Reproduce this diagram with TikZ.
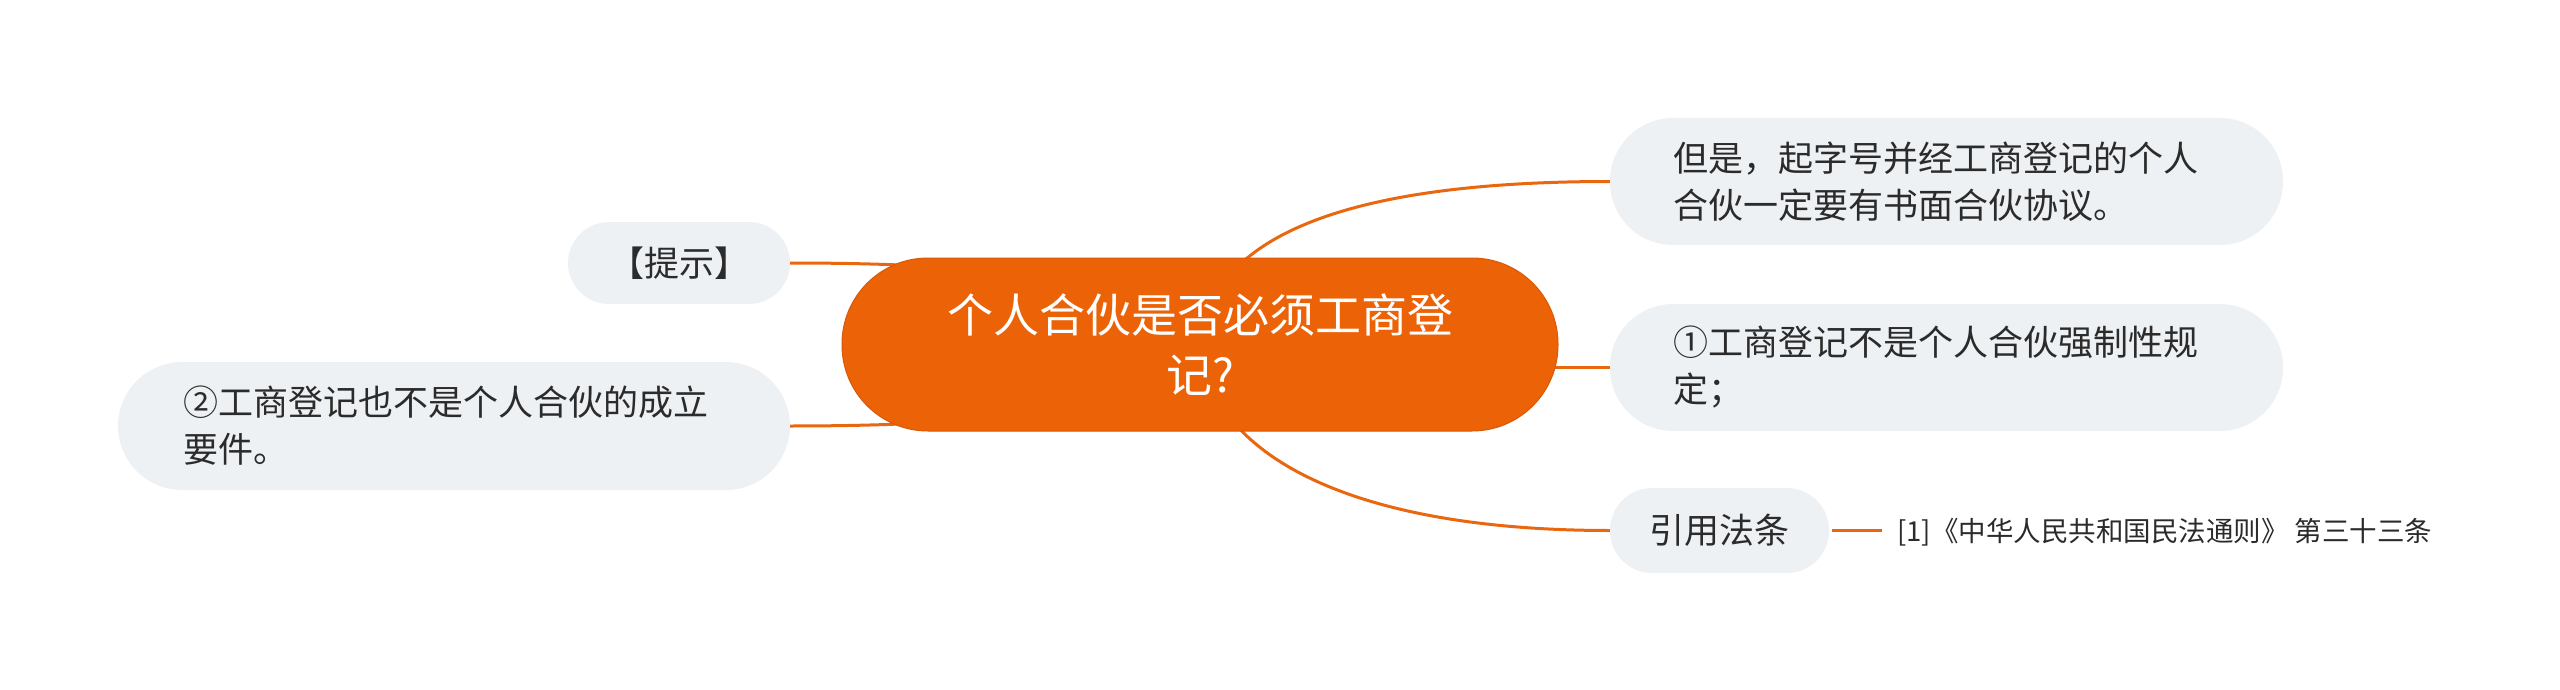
\documentclass[tikz,border=0pt]{standalone}
\usepackage{fontspec}
\setmainfont{Noto Sans CJK SC}
\usetikzlibrary{backgrounds}
\definecolor{orangeM}{HTML}{EC6207}
\definecolor{orangeB}{HTML}{D95805}
\definecolor{lineO}{HTML}{E8670F}
\definecolor{boxG}{HTML}{EEF1F4}
\definecolor{txt}{HTML}{2B2B2B}
\begin{document}
\begin{tikzpicture}[x=1pt,y=-1pt,
  centre/.style={fill=orangeM, draw=orangeB, line width=1pt, text=white, inner sep=0pt,
    align=center, font=\fontsize{46}{60}\selectfont},
  topicbox/.style={fill=boxG, text=txt, inner sep=0pt, font=\fontsize{35}{47}\selectfont},
  conn/.style={draw=lineO, line width=3pt}]
\path[use as bounding box] (0,0) rectangle (2560,690);
\node[centre, minimum width=716pt, minimum height=173pt, rounded corners=86pt, text width=600pt] (c) at (1200,344.5) {个人合伙是否必须工商登\\记?};
\node[topicbox, minimum width=673pt, minimum height=127pt, rounded corners=63pt, text width=547pt, align=left] (r1) at (1946.5,181.5) {但是，起字号并经工商登记的个人\\合伙一定要有书面合伙协议。};
\node[topicbox, minimum width=673pt, minimum height=127pt, rounded corners=63pt, text width=547pt, align=left] (r2) at (1946.5,367.5) {①工商登记不是个人合伙强制性规\\定；};
\node[topicbox, minimum width=219pt, minimum height=85pt, rounded corners=42pt] (r3) at (1719.5,530.5) {引用法条};
\node[anchor=west, inner sep=0pt, text=txt, font=\fontsize{27.5}{34}\selectfont] (lf) at (1897,532) {[1]《中华人民共和国民法通则》 第三十三条};
\node[topicbox, minimum width=222pt, minimum height=82pt, rounded corners=41pt] (l1) at (679,263) {【提示】};
\node[topicbox, minimum width=672pt, minimum height=128pt, rounded corners=64pt, text width=542pt, align=left] (l2) at (454,426) {②工商登记也不是个人合伙的成立\\要件。};
\begin{scope}[on background layer]
\draw[conn] (c.center) .. controls (1210,236) and (1346.7,181.5) .. (r1.west);
\draw[conn] (c.center |- r2.west) -- (r2.west);
\draw[conn] (c.center) .. controls (1210,453) and (1346.7,530.5) .. (r3.west);
\draw[conn] (c.center) .. controls (1180,290.2) and (1043.3,263) .. (l1.east);
\draw[conn] (c.center) .. controls (1180,398.8) and (1043.3,426) .. (l2.east);
\end{scope}
\draw[conn, shorten <=3pt, shorten >=15pt] (r3.east) -- (lf.west |- r3.east);
\end{tikzpicture}
\end{document}
